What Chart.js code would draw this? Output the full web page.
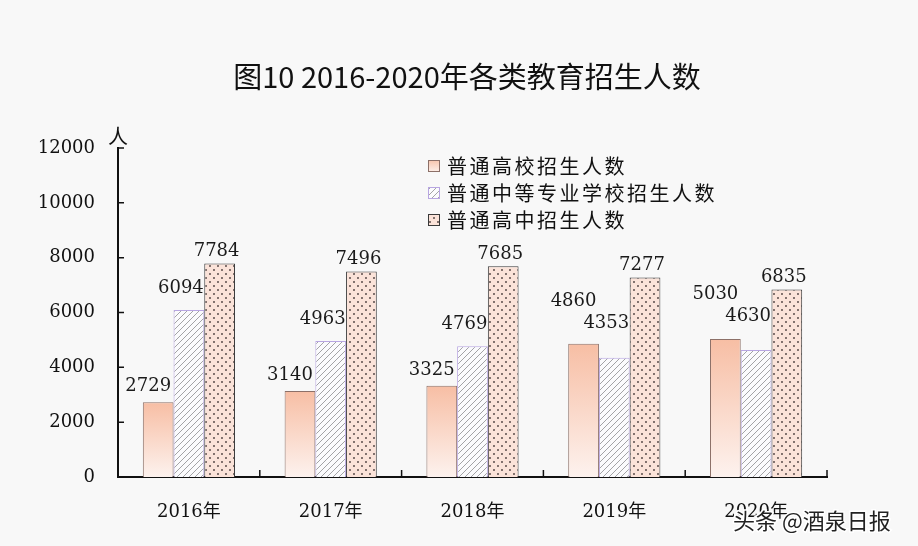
<!DOCTYPE html>
<html lang="zh">

<head>
    <meta charset="utf-8" />
    <title>图10 2016-2020年各类教育招生人数</title>
    <script src="https://cdn.jsdelivr.net/npm/chart.js"></script>
    <style>
        body { margin: 0; background: #f8f8f8; }
        #wrap { width: 918px; height: 546px; }
    </style>
</head>

<body>
    <div id="wrap"><canvas id="eduChart" width="918" height="546"></canvas></div>
    <script>
        // data
        const categories = ['2016年', '2017年', '2018年', '2019年', '2020年'];
        const gaoxiao = [2729, 3140, 3325, 4860, 5030];
        const zhongzhuan = [6094, 4963, 4769, 4353, 4630];
        const gaozhong = [7784, 7496, 7685, 7277, 6835];
        const seriesNames = ['普通高校招生人数', '普通中等专业学校招生人数', '普通高中招生人数'];
        const yMax = 12000;
        const yStep = 2000;

        const numFont = '18px "DejaVu Serif", "Noto Sans CJK SC", serif';
        const cjkFont = '"Noto Sans CJK SC", sans-serif';

        // patterns for the second and third series
        function hatchPattern() {
            const c = document.createElement('canvas');
            c.width = 6; c.height = 6;
            const g = c.getContext('2d');
            g.fillStyle = '#fbfbfd';
            g.fillRect(0, 0, 6, 6);
            g.strokeStyle = '#98989c';
            g.lineWidth = 0.9;
            g.beginPath();
            g.moveTo(0, 6); g.lineTo(6, 0);
            g.moveTo(-1, 1); g.lineTo(1, -1);
            g.moveTo(5, 7); g.lineTo(7, 5);
            g.stroke();
            return g.createPattern(c, 'repeat');
        }

        function dotPattern() {
            const c = document.createElement('canvas');
            c.width = 8; c.height = 8;
            const g = c.getContext('2d');
            g.fillStyle = '#fbe3d9';
            g.fillRect(0, 0, 8, 8);
            g.fillStyle = '#5a4c4a';
            g.beginPath();
            g.arc(2, 2, 1.0, 0, Math.PI * 2);
            g.arc(6, 6, 1.0, 0, Math.PI * 2);
            g.fill();
            return g.createPattern(c, 'repeat');
        }

        const hatch = hatchPattern();
        const dots = dotPattern();

        function orangeFill(ctx) {
            const chart = ctx.chart;
            const area = chart.chartArea;
            if (!area || ctx.raw === undefined) return '#f8c8b2';
            const top = chart.scales.y.getPixelForValue(ctx.raw);
            const gr = chart.ctx.createLinearGradient(0, top, 0, area.bottom);
            gr.addColorStop(0, '#f7bea4');
            gr.addColorStop(1, '#fdf2ee');
            return gr;
        }

        const borders = ['#8c7068', '#b8a6e2', '#3a3a3a'];

        // inner tick marks on both axes
        const axisTicks = {
            id: 'axisTicks',
            afterDraw(chart) {
                const ctx = chart.ctx;
                const x = chart.scales.x, y = chart.scales.y;
                const area = chart.chartArea;
                ctx.save();
                ctx.strokeStyle = '#111';
                ctx.lineWidth = 1.5;
                ctx.beginPath();
                y.ticks.forEach(t => {
                    const py = y.getPixelForValue(t.value);
                    ctx.moveTo(area.left, py);
                    ctx.lineTo(area.left + 6, py);
                });
                for (let i = 0; i < categories.length; i++) {
                    const px = i < categories.length - 1
                        ? (x.getPixelForValue(i) + x.getPixelForValue(i + 1)) / 2
                        : area.right;
                    ctx.moveTo(px, area.bottom);
                    ctx.lineTo(px, area.bottom - 7);
                }
                ctx.stroke();
                // unit
                ctx.fillStyle = '#111';
                ctx.font = '20px ' + cjkFont;
                ctx.textAlign = 'center';
                ctx.textBaseline = 'middle';
                ctx.fillText('人', area.left, area.top - 12);
                ctx.restore();
            }
        };

        // value labels above bars
        const valueLabels = {
            id: 'valueLabels',
            afterDatasetsDraw(chart) {
                const ctx = chart.ctx;
                const dx = [-10, -8, -3];
                const gap = [16, 22, 12];
                ctx.save();
                ctx.font = numFont;
                ctx.fillStyle = '#1a1a1a';
                ctx.textAlign = 'center';
                ctx.textBaseline = 'middle';
                for (let i = 0; i < categories.length; i++) {
                    const pos = chart.data.datasets.map((ds, d) => {
                        const el = chart.getDatasetMeta(d).data[i];
                        return { x: el.x + dx[d], y: el.y - gap[d], text: String(ds.data[i]) };
                    });
                    // lift the first two labels when they collide
                    const w = ctx.measureText(pos[0].text).width;
                    if (Math.abs(pos[0].x - pos[1].x) < w && Math.abs(pos[0].y - pos[1].y) < 20) {
                        pos[1].y -= 12;
                        pos[0].y = pos[1].y - 22;
                    }
                    pos.forEach(p => ctx.fillText(p.text, p.x, p.y));
                }
                ctx.restore();
            }
        };

        // title, legend and watermark
        const decorations = {
            id: 'decorations',
            afterDraw(chart) {
                const ctx = chart.ctx;
                ctx.save();
                ctx.fillStyle = '#111';
                ctx.font = '400 29px ' + cjkFont;
                ctx.textAlign = 'center';
                ctx.textBaseline = 'middle';
                ctx.fillText('图10 2016-2020年各类教育招生人数', 467, 77);

                ctx.font = '20px ' + cjkFont;
                ctx.textAlign = 'left';
                ctx.letterSpacing = '2.5px';
                seriesNames.forEach((name, d) => {
                    const cy = 166 + d * 27;
                    const bx = 428, by = cy - 6;
                    if (d === 0) {
                        const gr = ctx.createLinearGradient(0, by, 0, by + 12);
                        gr.addColorStop(0, '#f7c4ac');
                        gr.addColorStop(1, '#fdf0ea');
                        ctx.fillStyle = gr;
                    } else {
                        ctx.fillStyle = d === 1 ? hatch : dots;
                    }
                    ctx.fillRect(bx, by, 12, 12);
                    ctx.strokeStyle = borders[d];
                    ctx.lineWidth = 1;
                    ctx.strokeRect(bx + 0.5, by + 0.5, 11, 11);
                    ctx.fillStyle = '#111';
                    ctx.fillText(name, 447, cy);
                });
                ctx.letterSpacing = '0px';

                ctx.font = '22px ' + cjkFont;
                ctx.lineWidth = 3;
                ctx.strokeStyle = '#ffffff';
                ctx.fillStyle = '#222';
                ctx.strokeText('头条 @酒泉日报', 733, 521);
                ctx.fillText('头条 @酒泉日报', 733, 521);
                ctx.restore();
            }
        };

        const chart = new Chart(document.getElementById('eduChart'), {
            type: 'bar',
            data: {
                labels: categories,
                datasets: [
                    { label: seriesNames[0], data: gaoxiao, backgroundColor: orangeFill, borderColor: borders[0], borderWidth: 1 },
                    { label: seriesNames[1], data: zhongzhuan, backgroundColor: hatch, borderColor: borders[1], borderWidth: 1 },
                    { label: seriesNames[2], data: gaozhong, backgroundColor: dots, borderColor: borders[2], borderWidth: 1 }
                ]
            },
            options: {
                responsive: false,
                animation: false,
                devicePixelRatio: 1,
                categoryPercentage: 0.65,
                barPercentage: 1.0,
                layout: { padding: { left: 0, right: 91, top: 148, bottom: 0 } },
                plugins: {
                    legend: { display: false },
                    title: { display: false },
                    tooltip: { enabled: false }
                },
                scales: {
                    x: {
                        grid: { display: false },
                        border: { display: true, color: '#111', width: 2 },
                        ticks: { color: '#111', font: { family: '"DejaVu Serif", "Noto Sans CJK SC", serif', size: 18 }, padding: 17 },
                        afterFit(scale) { scale.height = 69; }
                    },
                    y: {
                        min: 0,
                        max: yMax,
                        grid: { display: false },
                        border: { display: true, color: '#111', width: 2 },
                        ticks: {
                            stepSize: yStep, color: '#111', padding: 15,
                            font: { family: '"DejaVu Serif", serif', size: 18 },
                            callback: v => String(v)
                        },
                        afterFit(scale) { scale.width = 118; }
                    }
                }
            },
            plugins: [axisTicks, valueLabels, decorations]
        });
    </script>
</body>

</html>
